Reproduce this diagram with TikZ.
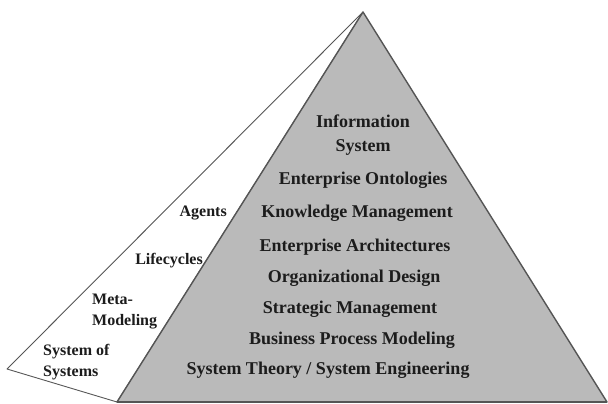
\documentclass[tikz,border=0pt]{standalone}
\usepackage{fontspec}
\setmainfont{Liberation Serif}
\usetikzlibrary{positioning}
\definecolor{pyrgray}{RGB}{186,186,186}
\definecolor{edgegray}{RGB}{85,85,85}
\definecolor{inkgray}{RGB}{28,28,28}

\begin{document}
\begin{tikzpicture}[
    x=1pt, y=-1pt,
    face/.style={draw=edgegray, line width=0.9pt, fill=white, line join=round},
    pyramid/.style={draw=edgegray, line width=1.4pt, fill=pyrgray, line join=round},
    layer/.style={font=\fontsize{18}{24}\selectfont\bfseries, text=inkgray, inner sep=0pt, text height=12pt, text depth=4pt},
    aspect/.style={font=\fontsize{16}{21}\selectfont\bfseries, text=inkgray, inner sep=0pt, align=left}
]
\useasboundingbox (0,0) rectangle (608,404);

% Pyramid corners
\coordinate (apex) at (363,12);
\coordinate (tip) at (7,369);
\coordinate (bl) at (117,402);
\coordinate (br) at (607,402);

% Side face
\draw[face] (apex) -- (tip) -- (bl) -- cycle;

% Front face
\draw[pyramid] (apex) -- (bl) -- (br) -- cycle;
\draw[edgegray, line width=2pt] (bl) -- (br);

% Layers of the front face
\node[layer, align=center, text height=, text depth=] (info) at (363,135) {Information\\System};
\node[layer] (ontol) at (363,180) {Enterprise Ontologies};
\node[layer, below=17pt of ontol, xshift=-6pt] (knowl) {Knowledge Management};
\node[layer, below=18pt of knowl, xshift=-2pt] (archi) {Enterprise Architectures};
\node[layer, below=14pt of archi, xshift=-1pt] (orgdes) {Organizational Design};
\node[layer, below=15pt of orgdes, xshift=-4pt] (strat) {Strategic Management};
\node[layer, below=14pt of strat, xshift=2pt] (bpm) {Business Process Modeling};
\node[layer, below=14pt of bpm, xshift=-24pt] (systh) {System Theory / System Engineering};

% Aspects on the side face
\node[aspect, anchor=east] (agents) at (227,213) {Agents};
\node[aspect, anchor=east] (life) at (203,261) {Lifecycles};
\node[aspect, anchor=west] (meta) at (92,311.5) {Meta-\\Modeling};
\node[aspect, anchor=west] (sos) at (43,362) {System of\\Systems};

\end{tikzpicture}
\end{document}
